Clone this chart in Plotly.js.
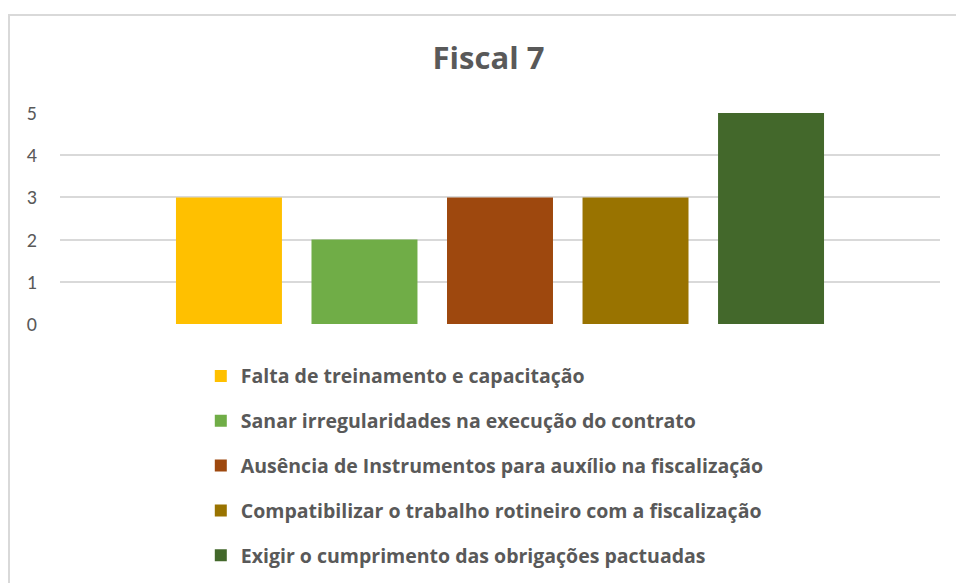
<!DOCTYPE html>
<html>
<head>
<meta charset="utf-8">
<script src="https://cdn.plot.ly/plotly-3.0.1.min.js"></script>
<style>
html,body{margin:0;padding:0;background:#fff;}
#wrap{position:relative;width:956px;height:583px;overflow:hidden;}
#chart{position:absolute;left:0;top:0;width:956px;height:583px;}
#frame{position:absolute;left:8px;top:14px;width:980px;height:620px;border:2px solid #d9d9d9;pointer-events:none;}
</style>
</head>
<body>
<div id="wrap"><div id="chart"></div><div id="frame"></div></div>
<script>
const chartTitle = "Fiscal 7";
const category = [""];
const seriesNames = [
  "Falta de treinamento e capacitação",
  "Sanar irregularidades na execução do contrato",
  "Ausência de Instrumentos para auxílio na fiscalização",
  "Compatibilizar o trabalho rotineiro com a fiscalização",
  "Exigir o cumprimento das obrigações pactuadas"
];
const seriesValues = [3, 2, 3, 3, 5];
const seriesColors = ["#FFC000", "#70AD47", "#9E480E", "#997300", "#43682B"];
const yTicks = [0, 1, 2, 3, 4, 5];

const fontFam = "'Open Sans', 'Noto Sans', sans-serif";
const tickFam = "Carlito, Calibri, 'Open Sans', sans-serif";
const traces = seriesNames.map((name, i) => ({
  type: "bar",
  name: name,
  x: category,
  y: [seriesValues[i]],
  marker: {color: seriesColors[i], line: {width: 0}},
  legendgroup: "g" + i,
  hoverinfo: "name+y"
}));

const layout = {
  width: 956, height: 583,
  margin: {l: 60, r: 16, t: 113, b: 259, pad: 0, autoexpand: false},
  paper_bgcolor: "#fff", plot_bgcolor: "#fff",
  title: {text: "<b>" + chartTitle + "</b>", x: 0.511, xanchor: "center", y: 0.9, yanchor: "middle",
          font: {family: fontFam, size: 31, color: "#595959"}},
  barmode: "group",
  bargap: 0.23,
  bargroupgap: 0.218,
  xaxis: {showticklabels: false, showgrid: false, zeroline: false, showline: false, ticks: ""},
  yaxis: {range: [0, 5], tickvals: yTicks, ticktext: yTicks.map(String), showgrid: true,
          gridcolor: "#d9d9d9", gridwidth: 2, zeroline: false, showline: false, ticks: "",
          ticklabelstandoff: 22,
          tickfont: {family: tickFam, size: 20, color: "#595959"}},
  showlegend: true,
  legend: {orientation: "v", x: 0.16, xanchor: "left", y: -0.155, yanchor: "top",
           traceorder: "grouped", tracegroupgap: 16.5, itemclick: false,
           font: {family: fontFam, size: 19.5, color: "#595959", weight: "bold"}},
  font: {family: fontFam}
};

Plotly.newPlot("chart", traces, layout, {displayModeBar: false, staticPlot: true});
</script>
</body>
</html>
